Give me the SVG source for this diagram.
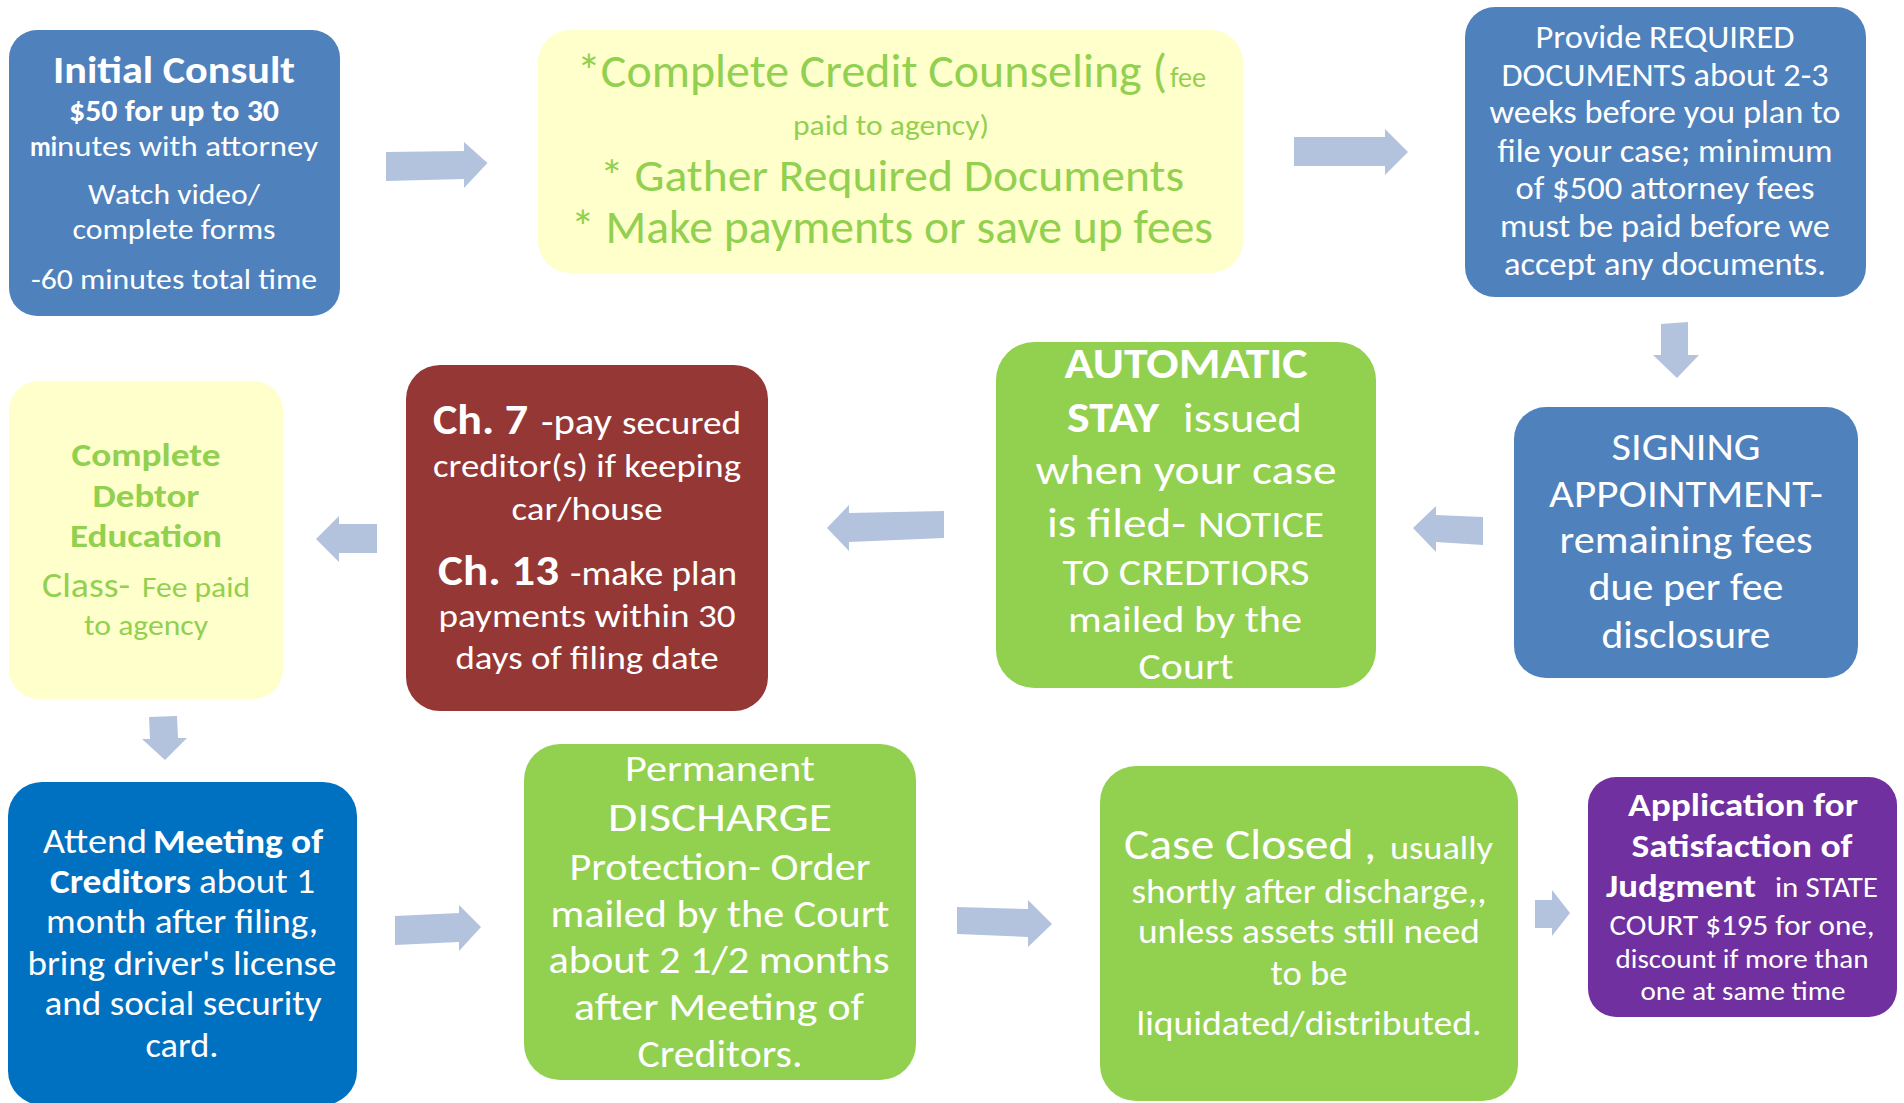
<svg xmlns="http://www.w3.org/2000/svg" width="1904" height="1103" viewBox="0 0 1904 1103">
<style>
text{font-family:Carlito,Lato,"Liberation Sans",sans-serif;fill:#fff;}
.c{text-anchor:middle;}
.b{font-weight:bold;}
.g{fill:#92D050;}
.arrow{fill:#B3C3DE;}
</style>
<rect width="1904" height="1103" fill="#fff"/>
<g id="connectors">
<polygon class="arrow" points="386,152 464,151 464,142 487.5,163 464,188 464,179 386,181"/>
<polygon class="arrow" points="1294,137 1385,137 1385,129 1408,152 1385,175 1385,166 1294,166"/>
<polygon class="arrow" points="1661,324 1688,322 1688,355 1699,355 1677,378 1653,355 1661,355"/>
<polygon class="arrow" points="1483,517 1483,545 1436,542 1436,552 1413,528 1436,506 1436,515"/>
<polygon class="arrow" points="944,511 944,538 849,542 849,551 827,528 849,505 849,513"/>
<polygon class="arrow" points="377,524 377,553 339,553 339,562 316,539 339,516 339,524"/>
<polygon class="arrow" points="149,717 177,716 178,738 187,738 165,760 142,739 150,739"/>
<polygon class="arrow" points="395,916 459,913 459,905 481,927 459,951 459,942 395,945"/>
<polygon class="arrow" points="957,907 1028,909 1028,900 1052,924 1028,947 1028,937 957,934"/>
<polygon class="arrow" points="1535,900 1552,900 1552,890 1570,913 1552,936 1552,928 1535,928"/>
</g>
<g id="initial-consult">
<rect x="9" y="30" width="331" height="286" rx="28" fill="#4F81BD"/>
<text class="c b" x="174" y="83" font-size="39" textLength="242" lengthAdjust="spacingAndGlyphs">Initial Consult</text>
<text class="c b" x="174" y="121" font-size="30" textLength="210" lengthAdjust="spacingAndGlyphs">$50 for up to 30</text>
<text y="156" font-size="28"><tspan class="b" x="30" textLength="27" lengthAdjust="spacingAndGlyphs">mi</tspan><tspan x="57" textLength="261" lengthAdjust="spacingAndGlyphs">nutes with attorney</tspan></text>
<text class="c" x="174" y="204" font-size="28" textLength="172" lengthAdjust="spacingAndGlyphs">Watch video/</text>
<text class="c" x="174" y="239" font-size="28" textLength="203" lengthAdjust="spacingAndGlyphs">complete forms</text>
<text class="c" x="174" y="289" font-size="28" textLength="286" lengthAdjust="spacingAndGlyphs">-60 minutes total time</text>
</g>
<g id="credit-counseling">
<rect x="538" y="30" width="705" height="243" rx="32" fill="#FFFFCC"/>
<text class="g" y="87"><tspan x="577" font-size="47" textLength="590" lengthAdjust="spacingAndGlyphs">*Complete Credit Counseling (</tspan><tspan x="1170" font-size="28" textLength="36" lengthAdjust="spacingAndGlyphs">fee</tspan></text>
<text class="g c" x="891" y="135" font-size="28" textLength="196" lengthAdjust="spacingAndGlyphs">paid to agency)</text>
<text class="g c" x="892" y="191" font-size="46" textLength="584" lengthAdjust="spacingAndGlyphs">* Gather Required Documents</text>
<text class="g c" x="892" y="243" font-size="47" textLength="642" lengthAdjust="spacingAndGlyphs">* Make payments or save up fees</text>
</g>
<g id="required-documents">
<rect x="1465" y="7" width="401" height="290" rx="30" fill="#4F81BD"/>
<text class="c" x="1665" y="48" font-size="32" textLength="259" lengthAdjust="spacingAndGlyphs">Provide REQUIRED</text>
<text class="c" x="1665" y="86" font-size="32" textLength="327" lengthAdjust="spacingAndGlyphs">DOCUMENTS about 2-3</text>
<text class="c" x="1665" y="123" font-size="32" textLength="351" lengthAdjust="spacingAndGlyphs">weeks before you plan to</text>
<text class="c" x="1665" y="162" font-size="32" textLength="335" lengthAdjust="spacingAndGlyphs">file your case; minimum</text>
<text class="c" x="1665" y="199" font-size="32" textLength="299" lengthAdjust="spacingAndGlyphs">of $500 attorney fees</text>
<text class="c" x="1665" y="237" font-size="32" textLength="330" lengthAdjust="spacingAndGlyphs">must be paid before we</text>
<text class="c" x="1665" y="275" font-size="32" textLength="322" lengthAdjust="spacingAndGlyphs">accept any documents.</text>
</g>
<g id="signing-appointment">
<rect x="1514" y="407" width="344" height="271" rx="32" fill="#4F81BD"/>
<text class="c" x="1686" y="460" font-size="38" textLength="149" lengthAdjust="spacingAndGlyphs">SIGNING</text>
<text class="c" x="1686" y="507" font-size="38" textLength="274" lengthAdjust="spacingAndGlyphs">APPOINTMENT-</text>
<text class="c" x="1686" y="553" font-size="38" textLength="253" lengthAdjust="spacingAndGlyphs">remaining fees</text>
<text class="c" x="1686" y="600" font-size="38" textLength="195" lengthAdjust="spacingAndGlyphs">due per fee</text>
<text class="c" x="1686" y="648" font-size="38" textLength="169" lengthAdjust="spacingAndGlyphs">disclosure</text>
</g>
<g id="automatic-stay">
<rect x="996" y="342" width="380" height="346" rx="38" fill="#92D050"/>
<text class="c b" x="1186" y="378" font-size="42" textLength="243" lengthAdjust="spacingAndGlyphs">AUTOMATIC</text>
<text y="432"><tspan class="b" x="1067" font-size="42" textLength="92" lengthAdjust="spacingAndGlyphs">STAY</tspan><tspan x="1183" font-size="40" textLength="119" lengthAdjust="spacingAndGlyphs">issued</tspan></text>
<text class="c" x="1186" y="484" font-size="40" textLength="301" lengthAdjust="spacingAndGlyphs">when your case</text>
<text y="537"><tspan x="1047" font-size="40" textLength="139" lengthAdjust="spacingAndGlyphs">is filed-</tspan><tspan x="1198" font-size="36" textLength="126" lengthAdjust="spacingAndGlyphs">NOTICE</tspan></text>
<text class="c" x="1186" y="585" font-size="36" textLength="247" lengthAdjust="spacingAndGlyphs">TO CREDTIORS</text>
<text class="c" x="1185" y="632" font-size="37" textLength="234" lengthAdjust="spacingAndGlyphs">mailed by the</text>
<text class="c" x="1186" y="679" font-size="37" textLength="95" lengthAdjust="spacingAndGlyphs">Court</text>
</g>
<g id="chapter-options">
<rect x="406" y="365" width="362" height="346" rx="34" fill="#953735"/>
<text y="434"><tspan class="b" x="433" font-size="42" textLength="95" lengthAdjust="spacingAndGlyphs">Ch. 7</tspan><tspan x="541" font-size="36" textLength="71" lengthAdjust="spacingAndGlyphs">-pay</tspan><tspan x="622" font-size="32" textLength="119" lengthAdjust="spacingAndGlyphs">secured</tspan></text>
<text class="c" x="587" y="477" font-size="32" textLength="308" lengthAdjust="spacingAndGlyphs">creditor(s) if keeping</text>
<text class="c" x="587" y="520" font-size="32" textLength="151" lengthAdjust="spacingAndGlyphs">car/house</text>
<text y="585"><tspan class="b" x="438" font-size="42" textLength="121" lengthAdjust="spacingAndGlyphs">Ch. 13</tspan><tspan x="570" font-size="34" textLength="167" lengthAdjust="spacingAndGlyphs">-make plan</tspan></text>
<text class="c" x="587" y="627" font-size="32" textLength="297" lengthAdjust="spacingAndGlyphs">payments within 30</text>
<text class="c" x="587" y="669" font-size="32" textLength="263" lengthAdjust="spacingAndGlyphs">days of filing date</text>
</g>
<g id="debtor-education">
<rect x="9" y="381" width="274" height="318" rx="30" fill="#FFFFCC"/>
<text class="c b g" x="146" y="466" font-size="33" textLength="149" lengthAdjust="spacingAndGlyphs">Complete</text>
<text class="c b g" x="146" y="507" font-size="33" textLength="107" lengthAdjust="spacingAndGlyphs">Debtor</text>
<text class="c b g" x="146" y="547" font-size="33" textLength="152" lengthAdjust="spacingAndGlyphs">Education</text>
<text class="g" y="597"><tspan x="42" font-size="34" textLength="88" lengthAdjust="spacingAndGlyphs">Class-</tspan><tspan x="142" font-size="28" textLength="108" lengthAdjust="spacingAndGlyphs">Fee paid</tspan></text>
<text class="c g" x="146" y="635" font-size="28" textLength="124" lengthAdjust="spacingAndGlyphs">to agency</text>
</g>
<g id="meeting-of-creditors">
<rect x="8" y="782" width="349" height="323" rx="34" fill="#0070C0"/>
<text y="853" font-size="34"><tspan x="43" textLength="104" lengthAdjust="spacingAndGlyphs">Attend</tspan><tspan class="b" x="153" textLength="170" lengthAdjust="spacingAndGlyphs">Meeting of</tspan></text>
<text y="893" font-size="34"><tspan class="b" x="50" textLength="141" lengthAdjust="spacingAndGlyphs">Creditors</tspan><tspan x="199" textLength="116" lengthAdjust="spacingAndGlyphs">about 1</tspan></text>
<text class="c" x="182" y="933" font-size="34" textLength="272" lengthAdjust="spacingAndGlyphs">month after filing,</text>
<text class="c" x="182" y="975" font-size="34" textLength="309" lengthAdjust="spacingAndGlyphs">bring driver's license</text>
<text class="c" x="183" y="1015" font-size="34" textLength="277" lengthAdjust="spacingAndGlyphs">and social security</text>
<text class="c" x="182" y="1057" font-size="34" textLength="73" lengthAdjust="spacingAndGlyphs">card.</text>
</g>
<g id="permanent-discharge">
<rect x="524" y="744" width="392" height="336" rx="36" fill="#92D050"/>
<text class="c" x="720" y="781" font-size="36" textLength="190" lengthAdjust="spacingAndGlyphs">Permanent</text>
<text class="c" x="720" y="831" font-size="42" textLength="224" lengthAdjust="spacingAndGlyphs">DISCHARGE</text>
<text class="c" x="720" y="880" font-size="38" textLength="301" lengthAdjust="spacingAndGlyphs">Protection- Order</text>
<text class="c" x="720" y="927" font-size="38" textLength="339" lengthAdjust="spacingAndGlyphs">mailed by the Court</text>
<text class="c" x="719" y="973" font-size="38" textLength="341" lengthAdjust="spacingAndGlyphs">about 2 1/2 months</text>
<text class="c" x="719" y="1020" font-size="38" textLength="290" lengthAdjust="spacingAndGlyphs">after  Meeting of</text>
<text class="c" x="720" y="1067" font-size="38" textLength="165" lengthAdjust="spacingAndGlyphs">Creditors.</text>
</g>
<g id="case-closed">
<rect x="1100" y="766" width="418" height="335" rx="36" fill="#92D050"/>
<text y="859"><tspan x="1124" font-size="44" textLength="252" lengthAdjust="spacingAndGlyphs">Case Closed ,</tspan><tspan x="1390" font-size="32" textLength="103" lengthAdjust="spacingAndGlyphs">usually</tspan></text>
<text class="c" x="1309" y="903" font-size="34" textLength="355" lengthAdjust="spacingAndGlyphs">shortly after discharge,,</text>
<text class="c" x="1309" y="943" font-size="34" textLength="342" lengthAdjust="spacingAndGlyphs">unless assets still need</text>
<text class="c" x="1309" y="985" font-size="34" textLength="77" lengthAdjust="spacingAndGlyphs">to be</text>
<text class="c" x="1309" y="1035" font-size="34" textLength="345" lengthAdjust="spacingAndGlyphs">liquidated/distributed.</text>
</g>
<g id="satisfaction-of-judgment">
<rect x="1588" y="777" width="309" height="240" rx="28" fill="#7030A0"/>
<text class="c b" x="1743" y="816" font-size="32" textLength="230" lengthAdjust="spacingAndGlyphs">Application for</text>
<text class="c b" x="1742" y="857" font-size="32" textLength="221" lengthAdjust="spacingAndGlyphs">Satisfaction of</text>
<text y="897"><tspan class="b" x="1606" font-size="32" textLength="150" lengthAdjust="spacingAndGlyphs">Judgment</tspan><tspan x="1775" font-size="28" textLength="103" lengthAdjust="spacingAndGlyphs">in STATE</tspan></text>
<text class="c" x="1742" y="935" font-size="28" textLength="265" lengthAdjust="spacingAndGlyphs">COURT  $195 for one,</text>
<text class="c" x="1742" y="968" font-size="26" textLength="253" lengthAdjust="spacingAndGlyphs">discount if more than</text>
<text class="c" x="1743" y="1000" font-size="26" textLength="205" lengthAdjust="spacingAndGlyphs">one at same time</text>
</g>
</svg>
